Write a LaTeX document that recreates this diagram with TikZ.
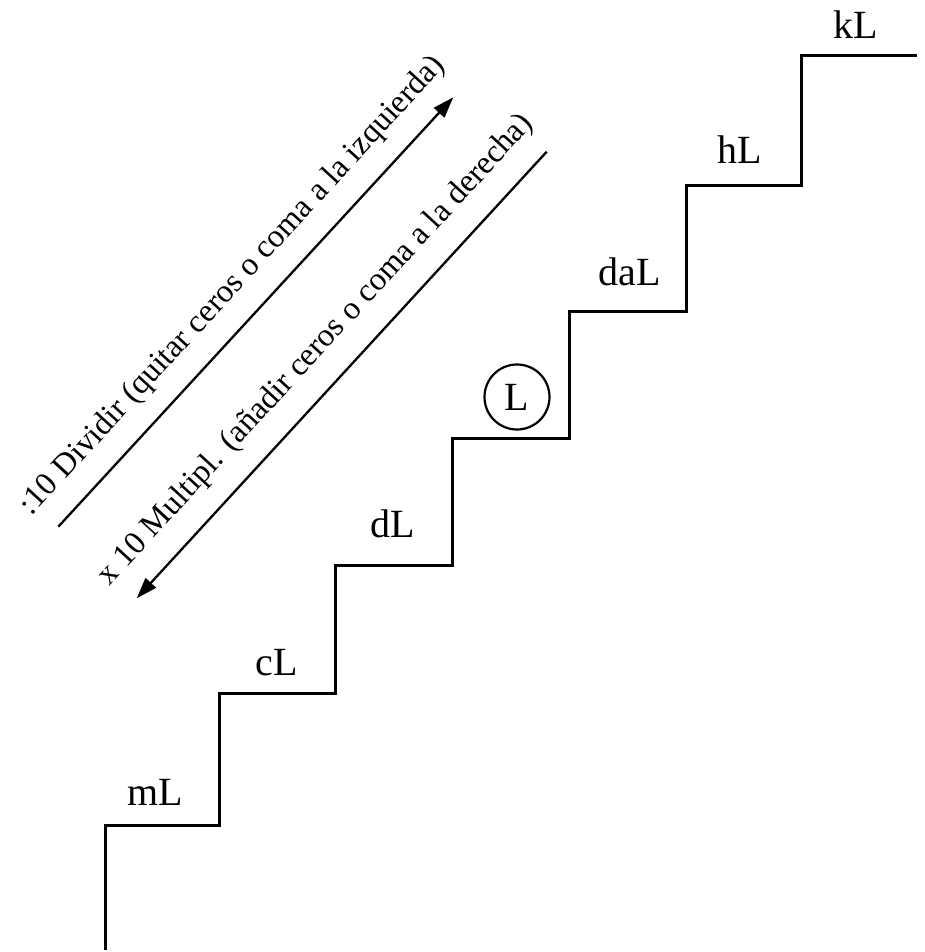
\documentclass[tikz,border=0pt]{standalone}
\usepackage{fontspec}
\setmainfont{Liberation Serif}
\usetikzlibrary{arrows.meta}
\begin{document}
\begin{tikzpicture}[x=1pt,y=-1pt,
  stair/.style={line width=3pt, line join=miter, line cap=butt},
  arrowline/.style={line width=2.3pt},
  unitlabel/.style={font=\fontsize{40}{40}\selectfont, anchor=base, inner sep=0pt},
  ruletext/.style={font=\fontsize{32.5}{32.5}\selectfont, rotate=47.4, inner sep=0pt},
  unitcircle/.style={circle, draw, line width=2.2pt, minimum size=65pt, inner sep=0pt, font=\fontsize{40}{40}\selectfont}]
\useasboundingbox (0,0) rectangle (925,952);
% staircase
\draw[stair] (105,950) -- (105,825) -- (219,825) -- (219,693) -- (335,693) -- (335,565)
  -- (452,565) -- (452,438) -- (569,438) -- (569,311) -- (686,311) -- (686,185)
  -- (801,185) -- (801,56) -- (917,56);
% labels
\node[unitlabel] (mL) at (155.5,805) {mL};
\node[unitlabel] (cL) at (276.7,675) {cL};
\node[unitlabel] (dL) at (392.5,537) {dL};
\node[unitcircle] (L) at (517,397) {\raisebox{-1pt}{L}};
\node[unitlabel] (daL) at (630,285) {daL};
\node[unitlabel] (hL) at (740,163.5) {hL};
\node[unitlabel] (kL) at (855.7,39) {kL};
% arrows
\coordinate (a1s) at (58.3,526.7);
\coordinate (a1e) at (453.3,97.3);
\coordinate (a2s) at (546.7,151.7);
\coordinate (a2e) at (136.7,598.3);
\draw[arrowline, -{Triangle[length=21pt,width=14pt]}] (a1s) -- (a1e);
\draw[arrowline, -{Triangle[length=21pt,width=14pt]}] (a2s) -- (a2e);
\node[ruletext] (t1) at (233,286) {:10 Dividir (quitar ceros o coma a la izquierda)};
\node[ruletext] (t2) at (316,350) {x 10 Multipl. (añadir ceros o coma a la derecha)};
\end{tikzpicture}
\end{document}
